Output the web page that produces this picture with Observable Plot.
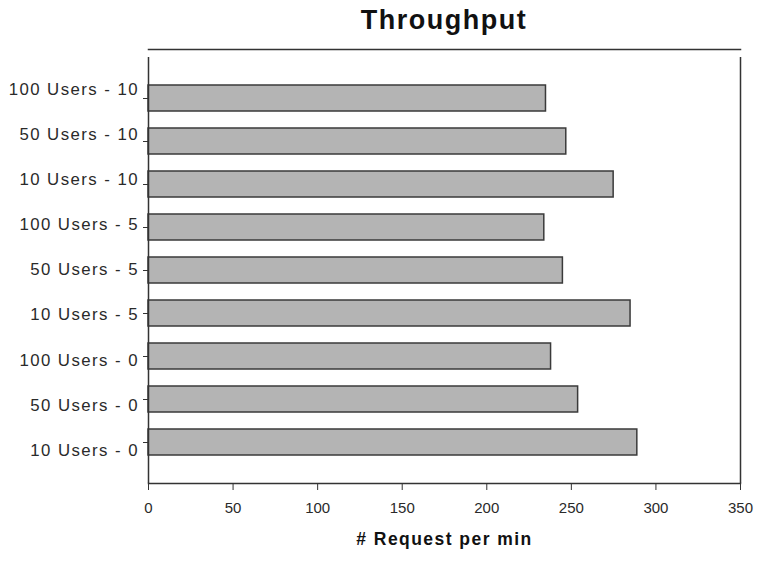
<!DOCTYPE html>
<html>
<head>
<meta charset="utf-8">
<script src="https://cdn.jsdelivr.net/npm/d3@7"></script>
<script src="https://cdn.jsdelivr.net/npm/@observablehq/plot@0.6"></script>
<style>
  body { margin: 0; background: #fff; font-family: "Liberation Sans", Arial, sans-serif; }
  #title { margin-left: 148px; width: 592px; height: 40px; line-height: 40px;
           text-align: center; font-weight: bold; font-size: 27px; letter-spacing: 1.5px; color: #111; }
  #chart svg { display: block; }
  #chart g[aria-label="text"] { letter-spacing: 1.45px; }
</style>
</head>
<body>
<div id="title">Throughput</div>
<div id="chart"></div>
<script>
const categories = [
  "100 Users - 10", "50 Users - 10", "10 Users - 10",
  "100 Users - 5", "50 Users - 5", "10 Users - 5",
  "100 Users - 0", "50 Users - 0", "10 Users - 0"
];
const values = [235, 247, 275, 234, 245, 285, 238, 254, 289];
const xTicks = [0, 50, 100, 150, 200, 250, 300, 350];
const xLabel = "# Request per min";

const data = categories.map((c, i) => ({category: c, value: values[i]}));

try {
  const chart = Plot.plot({
    width: 763,
    height: 523,
    marginLeft: 148,
    marginRight: 23,
    marginTop: 17,
    marginBottom: 80,
    style: {fontFamily: "'Liberation Sans', Arial, sans-serif", color: "#2a2a2a", background: "#fff"},
    x: {domain: [0, 350], ticks: xTicks},
    y: {domain: categories, paddingInner: 0.385, paddingOuter: 0.63},
    marks: [
      Plot.barX(data, {x: "value", y: "category", fill: "#b4b4b4", stroke: "#3a3a3a", strokeWidth: 1.5}),
      Plot.ruleX([0, 350], {stroke: "#333", strokeWidth: 1.5}),
      Plot.frame({anchor: "bottom", stroke: "#333", strokeWidth: 1.5}),
      Plot.frame({anchor: "top", dy: -8, stroke: "#333", strokeWidth: 1.5}),
      Plot.axisX({ticks: xTicks, tickSize: 7, tickPadding: 12, label: null, fontSize: 15, stroke: "#333", fill: "#2a2a2a"}),
      Plot.axisY({tickSize: 5, tickFormat: () => "", label: null, stroke: "#333"}),
      ...categories.map((c, i) => Plot.text([c], {
        y: d => d, text: d => d, frameAnchor: "left", textAnchor: "end",
        dx: -9.5, dy: -0.5 + (i - 4) * 2.1, fontSize: 16.8, fill: "#2a2a2a"
      })),
      Plot.text([xLabel], {text: d => d, frameAnchor: "bottom", dy: 61, fontSize: 17.5, fontWeight: "bold", fill: "#111"})
    ]
  });
  document.getElementById("chart").appendChild(chart);
} catch (e) {
  const p = document.createElement("pre");
  p.textContent = String(e && e.stack || e);
  document.body.appendChild(p);
}
</script>
</body>
</html>
